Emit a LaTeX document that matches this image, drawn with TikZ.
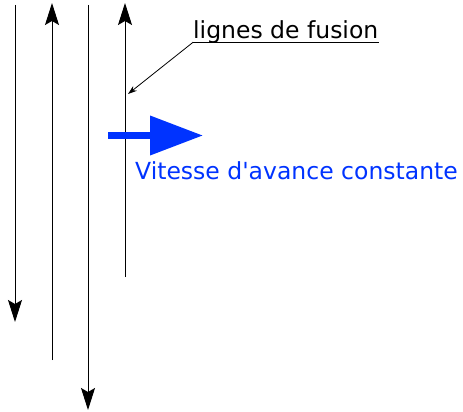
\documentclass[tikz,border=0pt]{standalone}
\usepackage{fontspec}
\setmainfont{DejaVu Sans}
\usepackage{color}
\definecolor{myblue}{RGB}{0,51,255}
\usepackage{tikz}
\usetikzlibrary{arrows,arrows.meta,positioning}
\tikzstyle{fusionline}=[line width=1pt,-{Stealth[length=22pt,width=14pt,inset=4pt]}]
\tikzstyle{leader}=[line width=0.8pt,-{Stealth[length=9pt,width=6pt]}]
\tikzstyle{speedarrow}=[myblue,line width=7pt,-{Triangle[length=53pt,width=38pt]}]
\tikzstyle{tagtext}=[font=\fontsize{23.5}{28}\selectfont,inner sep=0pt]

\begin{document}
\begin{tikzpicture}[x=1pt,y=-1pt]
\useasboundingbox (0,0) rectangle (463,412);
% fusion lines, alternating directions
\coordinate (a1) at (15,5);
\coordinate (a2) at (15,322);
\coordinate (b1) at (52,360);
\coordinate (b2) at (52,3);
\coordinate (c1) at (88,5);
\coordinate (c2) at (88,410);
\coordinate (d1) at (125,277);
\coordinate (d2) at (125,3);
\draw[fusionline] (a1) -- (a2);
\draw[fusionline] (b1) -- (b2);
\draw[fusionline] (c1) -- (c2);
\draw[fusionline] (d1) -- (d2);
% label with leader
\coordinate (tip) at (128,94);
\node[tagtext,anchor=base west] (fusion) at (193,38.3) {lignes de fusion};
\coordinate (u1) at ([yshift=-4pt]fusion.base west);
\coordinate (u2) at ([yshift=-4pt]fusion.base east);
\draw[line width=0.8pt] (u1) -- (u2);
\draw[leader] (u1) -- (tip);
% speed
\coordinate (s1) at (108,135.5);
\coordinate (s2) at (203,135.5);
\draw[speedarrow] (s1) -- (s2);
\node[tagtext,myblue,anchor=base west] (speed) at (135,179) {Vitesse d\textquotesingle avance constante};
\end{tikzpicture}
\end{document}
